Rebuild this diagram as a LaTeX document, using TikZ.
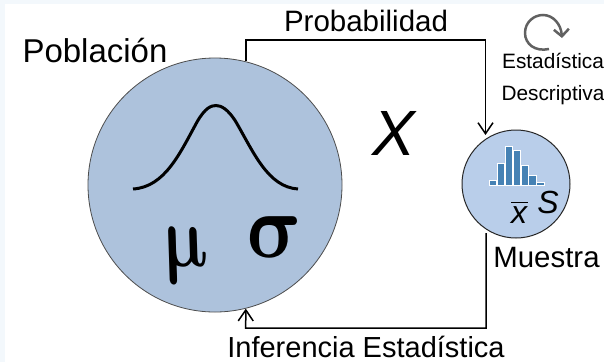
\documentclass[tikz,border=0pt]{standalone}
\usepackage{fontspec}
\setmainfont{Liberation Sans}
\usetikzlibrary{arrows.meta}
\definecolor{bigblue}{HTML}{ADC2DC}
\definecolor{smallblue}{HTML}{B9CEEA}
\definecolor{histblue}{HTML}{4682B4}
\definecolor{paleframe}{HTML}{F3F8FC}
\tikzset{
  x=1pt,y=-1pt,
  label text/.style={inner sep=0pt,text=black,anchor=base,font=\fontsize{#1}{#1}\selectfont},
  italic text/.style={inner sep=0pt,text=black,anchor=base,font=\fontsize{#1}{#1}\selectfont\itshape},
  greek text/.style={inner sep=0pt,text=black,anchor=base,transform shape,xslant=-0.22,font=\mathversion{bold}},
  link/.style={draw=black,line width=1.5pt,-{Straight Barb[length=11pt,width=15pt,line width=1.5pt]}},
  histbar/.style={fill=histblue,draw=white,line width=1pt},
  big disc/.style={circle,draw=black!70,line width=0.8pt,fill=bigblue,minimum size=254pt,inner sep=0pt},
  small disc/.style={circle,draw=black!85,line width=1pt,fill=smallblue,minimum size=108pt,inner sep=0pt},
}
\begin{document}
\begin{tikzpicture}
\useasboundingbox (0,0) rectangle (604,362);
\fill[paleframe] (0,0) rectangle (604,362);
\fill[white] (5,4) rectangle (604,362);
\node[big disc] (pop) at (215,185) {};
\node[small disc] (sam) at (516,184) {};
% links
\coordinate (stop) at (485.5,40);
\coordinate (stip) at (485.5,135);
\coordinate (sstart) at (486,233);
\coordinate (sbot) at (486,328);
\coordinate (pbot) at (245.7,328);
\draw[link] (pop.76) |- (stop) -- (stip);
\draw[link] (sstart) -- (sbot) -- (pbot) -- (pop.284);
% bell
\draw[line width=3pt,line cap=butt] (133,189) .. controls (165,187) and (180,153) .. (197,122)
  .. controls (205,108) and (211,105.5) .. (216,105.5)
  .. controls (221,105.5) and (228,109) .. (236,122)
  .. controls (254,153) and (268,187) .. (298,189);
% histogram
\foreach \xa/\xb/\yt in {489.7/496/181,497.7/504/164.3,505.7/512.3/146.7,513.7/520.3/151,521.7/528/166,529.3/536/175.7,537.3/544/183.3}
  \draw[histbar] ({\xa-.5},{\yt-.5}) rectangle ({\xb+.5},185.5);
% labels
\node[label text=33] (lpop) at (95,62.5) {Población};
\node[label text=29.5] (lprob) at (366,31) {Probabilidad};
\node[label text=29] (linf) at (366,357) {Inferencia Estadística};
\node[label text=29.4] (lmue) at (546.5,267) {Muestra};
\node[label text=20.8] (lest) at (553,68) {Estadística};
\node[label text=20.8] (ldes) at (553,100) {Descriptiva};
\node[italic text=64] (lx) at (394,155) {X};
\node[italic text=32] (ls) at (548,213) {S};
\node[italic text=32] (lxb) at (519,223) {x};
\draw[line width=1pt] (511,202) -- (528,202);
\node[greek text,xscale=6.6,yscale=8.8] (lmu) at (188,266) {$\mu$};
\node[greek text,xscale=8.2,yscale=9.2] (lsig) at (280,257) {$\sigma$};
% cycle arrow
\draw[line width=2.5pt,draw=black!62,-{Straight Barb[length=7pt,width=15pt,line width=2.5pt]}] (549,49) .. controls (535,52) and (525,44) .. (525,33) .. controls (525,22) and (534,15) .. (543,15) .. controls (553,15) and (561,24) .. (562,38);
\end{tikzpicture}
\end{document}
